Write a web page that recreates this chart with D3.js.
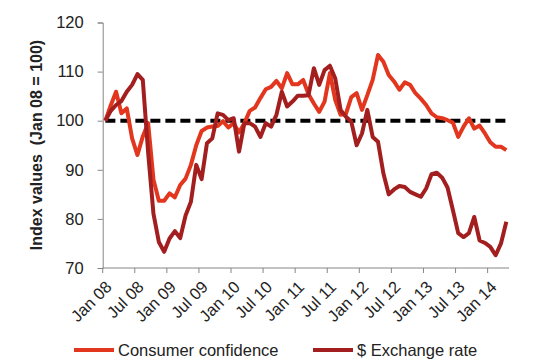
<!DOCTYPE html>
<html>
<head>
<meta charset="utf-8">
<script src="https://cdn.jsdelivr.net/npm/d3@7"></script>
<style>
  body { margin: 0; background: #fff; }
  text { font-family: "Liberation Sans", Arial, sans-serif; fill: #222; }
</style>
</head>
<body>
<div id="chart"></div>
<script>
// monthly index values, Jan 08 .. Apr 14 (Jan 08 = 100)
const confidence = [
  100, 103.1, 105.9, 101.5, 102.5, 96.4, 93.0, 96.8, 99.5, 88,
  83.7, 83.7, 85.2, 84.4, 86.9, 88.2, 91, 95, 97.9, 98.6,
  98.8, 98.9, 99.9, 98.6, 99.5, 97.6, 99.5, 102, 102.7, 104.6,
  106.4, 106.9, 108.1, 106.6, 109.7, 107.4, 107.4, 108.3, 105.4, 103.5,
  101.8, 103.9, 109.7, 104.2, 101.2, 101.4, 104.8, 105.6, 102.2, 105.2,
  108.3, 113.4, 112, 109.3, 108, 106.3, 107.8, 107.3, 105.6, 104.5,
  103.2, 101.5, 100.7, 100.5, 100.1, 99.6, 96.7, 98.8, 100.5, 98.4,
  99, 97.4, 95.6, 94.7, 94.7, 94
];
const exchange = [
  100, 102, 103.2, 104, 105.9, 107.3, 109.5, 108.3, 93.5, 81,
  75.3, 73.3, 76, 77.5, 76.1, 80.7, 83.5, 91, 88.1, 95.4,
  96.4, 101.5, 101.2, 100.1, 100.5, 93.7, 99.5, 99.5, 98.8, 96.7,
  99.5, 98.8, 101.2, 105.9, 102.9, 103.9, 105.1, 105.1, 105.2, 110.7,
  107.3, 110.3, 111.2, 108.6, 102.2, 100.8, 99.8, 95, 97.4, 102.2,
  96.7, 95.7, 89.3, 85, 86, 86.7, 86.5, 85.5, 85, 84.5,
  86.2, 89.1, 89.4, 88.4, 86.4, 81.8, 77.1, 76.3, 77.1, 80.4,
  75.6, 75.1, 74.3, 72.6, 75, 79.4
];
const baseline = 100;
const tickLabels = ["Jan 08", "Jul 08", "Jan 09", "Jul 09", "Jan 10", "Jul 10", "Jan 11",
                    "Jul 11", "Jan 12", "Jul 12", "Jan 13", "Jul 13", "Jan 14"];
const yTicks = [70, 80, 90, 100, 110, 120];

const width = 542, height = 363;
const margin = { top: 22.5, right: 33, bottom: 95, left: 102.7 };
const red = "#E2361E", darkRed = "#A31F1F", axisColor = "#868686";
const fontSize = "16.5px";

const svg = d3.select("#chart").append("svg")
  .attr("width", width)
  .attr("height", height);

const idx = d3.range(confidence.length);
const x = d3.scaleBand()
  .domain(idx)
  .range([margin.left, width - margin.right]);
const y = d3.scaleLinear()
  .domain([70, 120])
  .range([height - margin.bottom, margin.top]);
const cx = i => x(i) + x.bandwidth() / 2;

// y axis
svg.append("g")
  .attr("transform", `translate(${margin.left},0)`)
  .call(d3.axisLeft(y).tickValues(yTicks).tickSize(5).tickPadding(14))
  .call(g => g.select(".domain").attr("stroke", axisColor))
  .call(g => g.selectAll("line").attr("stroke", axisColor))
  .call(g => g.selectAll("text").attr("font-size", fontSize).attr("fill", "#222")
    .attr("font-family", "Liberation Sans, Arial, sans-serif"));

// x axis, ticks every 6 months at category boundaries
const xAxis = svg.append("g")
  .attr("transform", `translate(0,${y(70)})`);
xAxis.append("line")
  .attr("x1", margin.left).attr("x2", width - margin.right)
  .attr("stroke", axisColor);
xAxis.selectAll(".tick")
  .data(tickLabels)
  .enter().append("line")
  .attr("x1", (d, k) => x(k * 6)).attr("x2", (d, k) => x(k * 6))
  .attr("y1", 0).attr("y2", 5)
  .attr("stroke", axisColor);
xAxis.selectAll("text")
  .data(tickLabels)
  .enter().append("text")
  .attr("transform", (d, k) => `translate(${x(k * 6) + 6},${16}) rotate(-45)`)
  .attr("text-anchor", "end")
  .attr("dy", "0.35em")
  .attr("font-size", fontSize)
  .text(d => d);

// y axis title
svg.append("text")
  .attr("transform", `translate(42,145) rotate(-90)`)
  .attr("text-anchor", "middle")
  .attr("font-size", "16px")
  .attr("font-weight", "bold")
  .style("white-space", "pre")
  .text("Index values  (Jan 08 = 100)");

// series
const line = data => d3.line().x((d, i) => cx(i)).y(d => y(d))(data);

svg.append("path")
  .attr("d", line(idx.map(() => baseline)))
  .attr("fill", "none")
  .attr("stroke", "#000")
  .attr("stroke-width", 4)
  .attr("stroke-dasharray", "10,5");

svg.append("path")
  .attr("d", line(confidence))
  .attr("fill", "none")
  .attr("stroke", red)
  .attr("stroke-width", 4)
  .attr("stroke-linejoin", "round");

svg.append("path")
  .attr("d", line(exchange))
  .attr("fill", "none")
  .attr("stroke", darkRed)
  .attr("stroke-width", 4)
  .attr("stroke-linejoin", "round");

// legend
const legend = [
  { name: "Consumer confidence", color: red, x: 74 },
  { name: "$ Exchange rate", color: darkRed, x: 313 }
];
const lg = svg.selectAll(".legend")
  .data(legend)
  .enter().append("g")
  .attr("transform", d => `translate(${d.x},350)`);
lg.append("line")
  .attr("x1", 0).attr("x2", 40)
  .attr("stroke", d => d.color)
  .attr("stroke-width", 4);
lg.append("text")
  .attr("x", 44)
  .attr("dy", "0.35em")
  .attr("font-size", fontSize)
  .text(d => d.name);
</script>
</body>
</html>
